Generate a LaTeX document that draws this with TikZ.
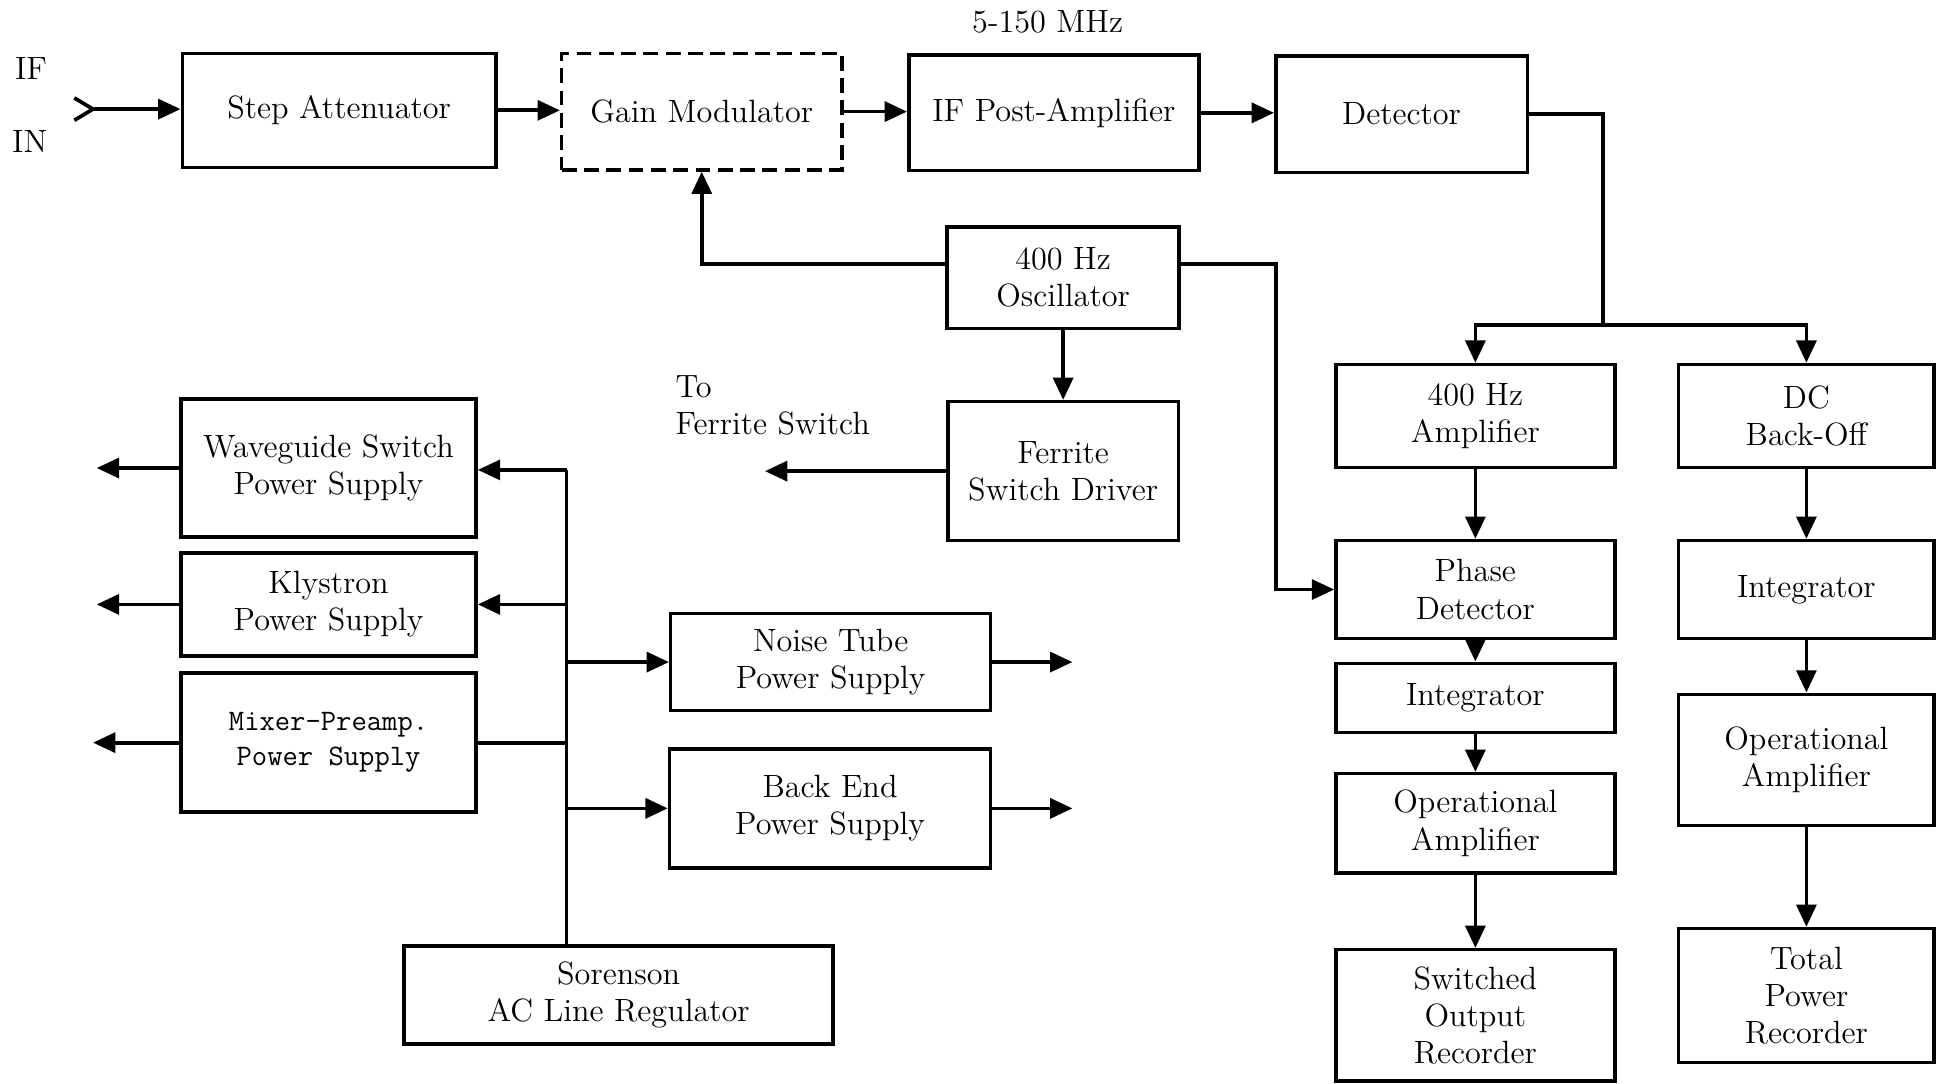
\documentclass[tikz,border=0pt]{standalone}
\usepackage{tikz}
\usetikzlibrary{arrows.meta}

\begin{document}
\begin{tikzpicture}[x=0.5pt,y=0.5pt,yscale=-1,xscale=1,
  blk/.style={draw,line width=1.4pt,inner sep=0.75pt,align=center,font=\fontsize{13}{15}\selectfont},
  txt/.style={inner sep=0.75pt,font=\fontsize{13}{15}\selectfont},
  wire/.style={line width=1.5pt},
  arr/.style={line width=1.5pt,-{Triangle[length=9pt,width=8pt]}}]
\useasboundingbox (0,0) rectangle (1568,874);

% Text Node
\node [txt] (ifl) at (25,55) {IF};
\node [txt] (inl) at (24,114) {IN};
\node [txt] (mhz) at (845,18) {5-150 MHz};
\node [txt,anchor=west,align=left] (tofs) at (543,327) {To\\Ferrite Switch};

%Shape: Rectangle
\node [blk,minimum width=126.5pt,minimum height=46pt] (sa) at (273.5,89) {Step Attenuator};
\node [blk,dashed,dash pattern=on 6pt off 3pt,minimum width=113pt,minimum height=47pt] (gm) at (566,90) {Gain Modulator};
\node [blk,minimum width=117pt,minimum height=46.5pt] (ifp) at (850,91) {IF Post-Amplifier};
\node [blk,minimum width=101.5pt,minimum height=47pt] (det) at (1130.5,92) {Detector};
\node [blk,minimum width=93.5pt,minimum height=41pt] (osc) at (857.5,224) {400 Hz\\Oscillator};
\node [blk,minimum width=93pt,minimum height=56pt] (fsd) at (857.5,380) {Ferrite\\Switch Driver};

%Shape: Rectangle (switched channel)
\node [blk,minimum width=112.5pt,minimum height=41.5pt] (amp) at (1190,335.5) {400 Hz\\Amplifier};
\node [blk,minimum width=112.5pt,minimum height=39.5pt] (phd) at (1190,475.5) {Phase\\Detector};
\node [blk,minimum width=112.5pt,minimum height=28pt] (intl) at (1190,563) {Integrator};
\node [blk,minimum width=112.5pt,minimum height=40pt] (opl) at (1190,664) {Operational\\Amplifier};
\node [blk,minimum width=112.5pt,minimum height=53pt] (sor) at (1190,819) {Switched\\Output\\Recorder};

%Shape: Rectangle (total power channel)
\node [blk,minimum width=103pt,minimum height=41.5pt] (dcb) at (1457,335.5) {DC\\Back-Off};
\node [blk,minimum width=103pt,minimum height=39.5pt] (intr) at (1457,475.5) {Integrator};
\node [blk,minimum width=103pt,minimum height=53pt] (opr) at (1457,613) {Operational\\Amplifier};
\node [blk,minimum width=103pt,minimum height=54pt] (tpr) at (1457,803) {Total\\Power\\Recorder};

%Shape: Rectangle (power supplies)
\node [blk,minimum width=119pt,minimum height=55.5pt] (wsp) at (265,377.5) {Waveguide Switch\\Power Supply};
\node [blk,minimum width=119pt,minimum height=41.5pt] (kps) at (265,487.5) {Klystron\\Power Supply};
\node [blk,font=\ttfamily\fontsize{12}{14}\selectfont,minimum width=119pt,minimum height=56pt] (mps) at (265,599) {Mixer-Preamp.\\Power Supply};
\node [blk,minimum width=129pt,minimum height=39pt] (ntp) at (670,534) {Noise Tube\\Power Supply};
\node [blk,minimum width=129.5pt,minimum height=48pt] (bep) at (669.5,652) {Back End\\Power Supply};
\node [blk,minimum width=173pt,minimum height=39.5pt] (reg) at (499,802.5) {Sorenson\\AC Line Regulator};

%Straight Lines
\coordinate (ifin) at (75,88);
\draw [wire] (60,79) -- (ifin) -- (60,97);
\draw [arr] (ifin) -- (ifin -| sa.west);
\draw [arr] (sa.east) -- (sa.east -| gm.west);
\draw [arr] (gm.east) -- (gm.east -| ifp.west);
\draw [arr] (ifp.east) -- (ifp.east -| det.west);

\draw [wire] (det.east) -| (1293,262) coordinate (split);
\draw [arr] (split) -| (amp.north);
\draw [arr] (split) -| (dcb.north);

\path (osc.west) ++(0,-11) coordinate (oscl);
\path (osc.east) ++(0,-11) coordinate (oscr);
\draw [arr] (oscl) -| (gm.south);
\draw [arr] (oscr) -- ++(77,0) |- (phd.west);
\draw [arr] (osc.south) -- (osc.south |- fsd.north);

\coordinate (ferr) at (617,380);
\draw [arr] (fsd.west) -- (ferr);

\draw [arr] (amp) -- (phd);
\draw [arr] (phd) -- (intl);
\draw [arr] (intl) -- (opl);
\draw [arr] (opl) -- (sor);
\draw [arr] (dcb) -- (intr);
\draw [arr] (intr) -- (opr);
\draw [arr] (opr) -- (tpr);

% power bus
\coordinate (bus) at (457,379);
\draw [wire] (reg.north -| bus) -- (bus);
\draw [arr] (bus) -- (bus -| wsp.east);
\draw [arr] (bus |- kps.east) -- (kps.east);
\draw [wire] (bus |- mps.east) -- (mps.east);
\draw [arr] (bus |- ntp.west) -- (ntp.west);
\draw [arr] (bus |- bep.west) -- (bep.west);

\coordinate (wsout) at (78,377.5);
\coordinate (ksout) at (78,487.5);
\coordinate (msout) at (75,599);
\coordinate (ntout) at (865,534);
\coordinate (beout) at (865,652);
\draw [arr] (wsp.west) -- (wsout);
\draw [arr] (kps.west) -- (ksout);
\draw [arr] (mps.west) -- (msout);
\draw [arr] (ntp.east) -- (ntout);
\draw [arr] (bep.east) -- (beout);

\end{tikzpicture}
\end{document}
